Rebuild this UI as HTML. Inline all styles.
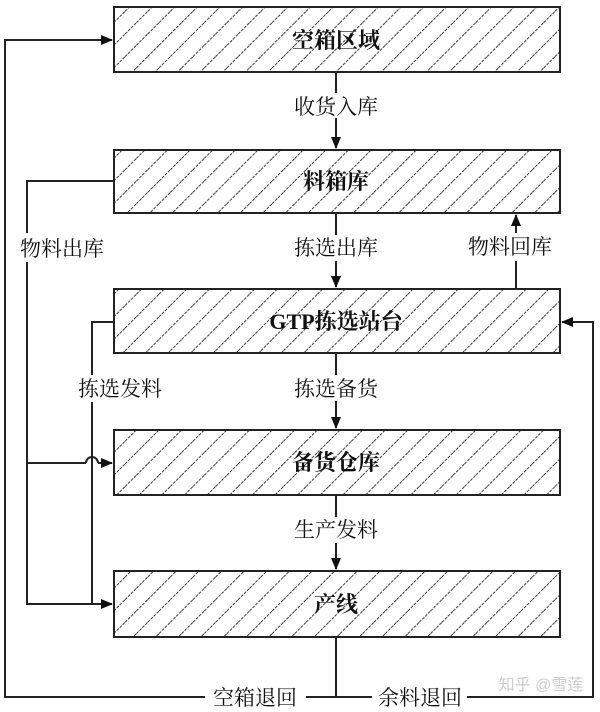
<!DOCTYPE html>
<html><head><meta charset="utf-8"><style>
html,body{margin:0;padding:0;background:#fff;width:600px;height:712px;overflow:hidden}
</style></head><body>
<svg width="600" height="712" viewBox="0 0 600 712" xmlns="http://www.w3.org/2000/svg">
<defs>
<pattern id="h" patternUnits="userSpaceOnUse" width="16" height="16" patternTransform="rotate(45)">
<line x1="0" y1="0" x2="0" y2="16" stroke="#222" stroke-width="1.8" stroke-dasharray="3,1.2"/>
</pattern>
<marker id="a" markerWidth="12" markerHeight="10" refX="11" refY="5" orient="auto" markerUnits="userSpaceOnUse">
<path d="M0,0 L12,5 L0,10 Z" fill="#111"/></marker>
</defs>
<g stroke="#222" stroke-width="2" fill="url(#h)">
<rect x="114" y="7" width="446" height="65"/>
<rect x="114" y="150" width="446" height="63"/>
<rect x="114" y="289" width="446" height="64"/>
<rect x="114" y="430" width="446" height="65"/>
<rect x="114" y="571" width="446" height="66"/>
</g>
<g font-family="'Liberation Serif','Noto Serif CJK SC',serif" font-weight="bold" font-size="22" text-anchor="middle" fill="#111">
<text x="336" y="48">空箱区域</text>
<text x="336" y="189">料箱库</text>
<text x="336" y="329">GTP拣选站台</text>
<text x="336" y="470">备货仓库</text>
<text x="336" y="612">产线</text>
</g>
<g stroke="#222" stroke-width="2" fill="none">
<line x1="336" y1="72" x2="336" y2="93"/>
<line x1="336" y1="118" x2="336" y2="148" marker-end="url(#a)"/>
<line x1="336" y1="213" x2="336" y2="235"/>
<line x1="336" y1="261" x2="336" y2="287" marker-end="url(#a)"/>
<line x1="336" y1="353" x2="336" y2="375"/>
<line x1="336" y1="401" x2="336" y2="428" marker-end="url(#a)"/>
<line x1="336" y1="495" x2="336" y2="517"/>
<line x1="336" y1="543" x2="336" y2="569" marker-end="url(#a)"/>
<line x1="516" y1="289" x2="516" y2="261"/>
<line x1="516" y1="233" x2="516" y2="215" marker-end="url(#a)"/>
<polyline points="205,697 5,697 5,40 112,40" marker-end="url(#a)"/>
<polyline points="114,181 27,181 27,233"/>
<polyline points="27,262 27,604 112,604" marker-end="url(#a)"/>
<line x1="27" y1="463" x2="86" y2="463"/>
<path d="M86,463 A6,6 0 0 1 98,463" />
<line x1="98" y1="463" x2="112" y2="463" marker-end="url(#a)"/>
<polyline points="114,322 92,322 92,375"/>
<line x1="92" y1="402" x2="92" y2="604"/>
<line x1="306" y1="697" x2="372" y2="697"/>
<line x1="336" y1="637" x2="336" y2="697"/>
<polyline points="467,697 593,697 593,322 562,322" marker-end="url(#a)"/>
</g>
<g font-family="'Liberation Serif','Noto Serif CJK SC',serif" font-size="21" text-anchor="middle" fill="#111">
<text x="336" y="114">收货入库</text>
<text x="336" y="255">拣选出库</text>
<text x="510" y="254">物料回库</text>
<text x="62" y="256">物料出库</text>
<text x="120" y="396">拣选发料</text>
<text x="336" y="396">拣选备货</text>
<text x="336" y="537">生产发料</text>
<text x="255" y="705">空箱退回</text>
<text x="420" y="705">余料退回</text>
</g>
<text x="541" y="690" font-family="'Liberation Sans','Noto Sans CJK SC',sans-serif" font-size="16" fill="#ccc" text-anchor="middle">知乎 @雪莲</text>
</svg>
</body></html>
